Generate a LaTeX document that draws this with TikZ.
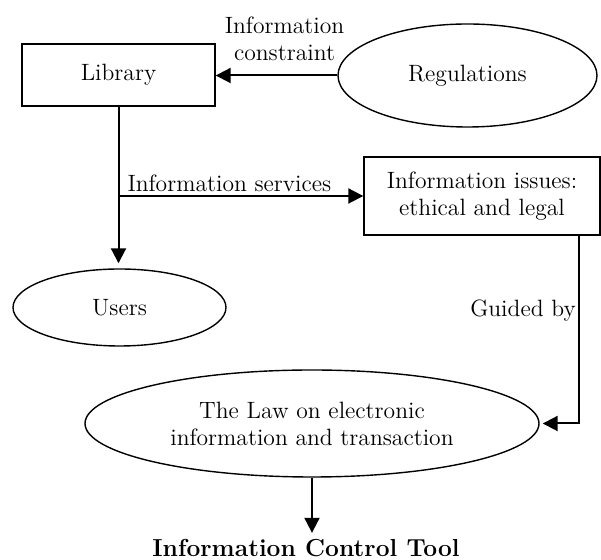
\documentclass[tikz,border=0pt]{standalone}
\usetikzlibrary{shapes.geometric,arrows.meta,calc,positioning}
\begin{document}
\begin{tikzpicture}[x=0.5pt,y=-0.5pt,
  font=\fontsize{11.8}{13.5}\selectfont,
  box/.style={draw,line width=0.7pt,rectangle,align=center,inner sep=0pt},
  oval/.style={draw,line width=0.7pt,ellipse,align=center,inner sep=0pt},
  arr/.style={-{Triangle[length=7.5pt,width=7.5pt]},line width=1pt}]
\useasboundingbox (0,0) rectangle (601,560);

\node[box,minimum width=96.5pt,minimum height=31pt] (lib) at (118.5,75) {Library};
\node[oval,minimum width=129.5pt,minimum height=51.5pt] (reg) at (467.5,75.5) {Regulations};
\node[box,minimum width=118pt,minimum height=39pt] (issues) at (482,196)
  {Information issues:\\ethical and legal};
\node[oval,minimum width=106.5pt,minimum height=38.5pt] (users) at (119.5,307.5) {Users};
\node[oval,minimum width=227pt,minimum height=53.5pt] (law) at (312,423.5)
  {The Law on electronic\\information and transaction};
\node[font=\fontsize{12.3}{14}\bfseries,inner sep=3pt] (tool) at (306,548) {Information Control Tool};

\draw[arr] (reg.west) -- (reg.west -| lib.east)
  node[midway,above=3.5pt,xshift=4pt,align=center]{Information\\constraint};
\draw[arr,shorten >=2.5pt] (lib.south) -- (lib.south |- users.north);
\coordinate (svc) at (lib.south |- issues.west);
\draw[arr] (svc) -- (issues.west)
  node[pos=0,above right,inner sep=1.5pt,xshift=2.5pt]{Information services};
\draw[arr,shorten >=1.5pt] ($(issues.south east)+(-22,0)$) |- (law.east)
  node[pos=0.2,left,inner sep=1pt]{Guided by};
\draw[arr] (law.south) -- (law.south |- tool.north);
\end{tikzpicture}
\end{document}
